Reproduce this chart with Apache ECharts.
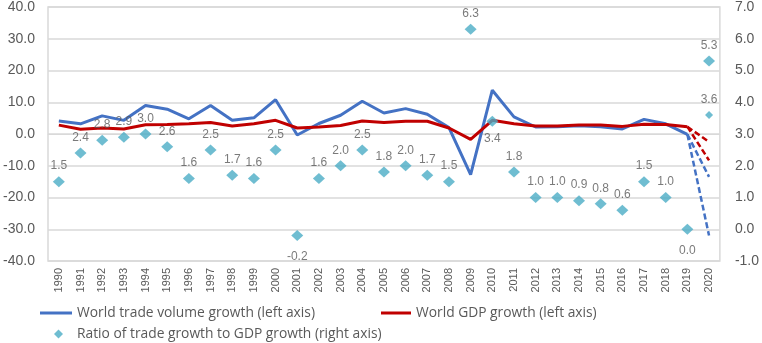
<!DOCTYPE html>
<html><head><meta charset="utf-8">
<script src="https://cdn.jsdelivr.net/npm/echarts@6/dist/echarts.min.js"></script>
<style>html,body{margin:0;padding:0;background:#fff}#c{width:762px;height:343px}</style>
</head><body><div id="c"></div>
<script>
const years = ['1990','1991','1992','1993','1994','1995','1996','1997','1998','1999','2000','2001','2002','2003','2004','2005','2006','2007','2008','2009','2010','2011','2012','2013','2014','2015','2016','2017','2018','2019','2020'];
// World trade volume growth (%), 1990-2019
const tradeGrowth = [4.1,3.2,5.7,4.3,9.0,7.8,4.8,9.0,4.3,5.1,10.8,-0.3,3.3,5.9,10.3,6.6,8.0,6.2,2.0,-12.8,13.8,5.4,2.2,2.3,2.6,2.3,1.6,4.6,3.2,-0.1];
// World GDP growth (%), 1990-2019
const gdpGrowth = [2.8,1.5,1.9,1.6,2.9,3.0,3.2,3.6,2.5,3.2,4.3,1.9,2.2,2.7,4.1,3.6,4.0,4.0,1.9,-1.7,4.3,3.2,2.5,2.5,2.8,2.8,2.4,3.1,3.0,2.3];
// 2020 scenarios (optimistic, pessimistic)
const tradeScenarios2020 = [-13.5, -32.0];
const gdpScenarios2020 = [-2.5, -8.3];
// Ratio of trade growth to GDP growth (right axis)
const ratio = [1.5,2.4,2.8,2.9,3.0,2.6,1.6,2.5,1.7,1.6,2.5,-0.2,1.6,2.0,2.5,1.8,2.0,1.7,1.5,6.3,3.4,1.8,1.0,1.0,0.9,0.8,0.6,1.5,1.0,0.0,5.3];
const ratioAlt2020 = 3.6;
const leftTicks = {min:-40, max:40, interval:10};
const rightTicks = {min:-1, max:7, interval:1};
const belowLabelYears = ['2001','2010','2019'];

const BLUE = '#4472C4', RED = '#C00000', TEAL = '#4BACC6', TXT = '#595959', GRID = '#d9d9d9';
const FONT = 'Liberation Sans';
const LFONT = 'Open Sans';

function padSeries(vals){ const a = years.map(()=>null); vals.forEach((v,i)=>a[i]=v); return a; }
function scenario(start, end){ const a = years.map(()=>null); a[years.length-2]=start; a[years.length-1]=end; return a; }

const tradeName = 'World trade volume growth (left axis)';
const gdpName = 'World GDP growth (left axis)';
const ratioName = 'Ratio of trade growth to GDP growth (right axis)';

const ratioData = ratio.map((v,i)=>{
  const below = belowLabelYears.includes(years[i]);
  const dist = years[i]==='2010' ? 6 : (below ? 10 : 4);
  return {value:v, label:{position: below ? 'bottom' : 'top', distance: dist}};
});
const altData = years.map((y,i)=> i===years.length-1 ? ratioAlt2020 : null);

const dashed = (data,color)=>({type:'line', data, yAxisIndex:0, symbol:'none', connectNulls:false,
  lineStyle:{color, width:2.5, type:[6,3]}, z:3, silent:true});

const legendText = {color:TXT, fontSize:13.8, fontFamily:LFONT, lineHeight:16};
const chart = echarts.init(document.getElementById('c'), null, {renderer:'canvas'});
chart.setOption({
  animation:false,
  textStyle:{fontFamily:FONT},
  grid:{left:48, right:41, top:5, bottom:82, show:true, borderColor:GRID, borderWidth:1.5},
  xAxis:{type:'category', data:years, boundaryGap:true,
    axisLine:{show:true, lineStyle:{color:GRID}}, axisTick:{show:false},
    axisLabel:{rotate:90, color:TXT, fontSize:11, fontFamily:FONT, margin:7, interval:0}},
  yAxis:[
    {type:'value', min:leftTicks.min, max:leftTicks.max, interval:leftTicks.interval,
      axisLine:{show:false}, axisTick:{show:false},
      splitLine:{lineStyle:{color:GRID, width:1.5}},
      axisLabel:{color:TXT, fontSize:14, fontFamily:FONT, margin:13, formatter:v=>v.toFixed(1)}},
    {type:'value', min:rightTicks.min, max:rightTicks.max, interval:rightTicks.interval,
      axisLine:{show:false}, axisTick:{show:false}, splitLine:{show:false},
      axisLabel:{color:TXT, fontSize:14, fontFamily:FONT, margin:15, formatter:v=>v.toFixed(1)}}
  ],
  legend:[
    {data:[{name:tradeName, icon:'rect'}], left:40, top:305, padding:0, itemWidth:32, itemHeight:3, itemGap:0,
      textStyle:legendText},
    {data:[{name:gdpName, icon:'rect'}], left:381, top:305, padding:0, itemWidth:30, itemHeight:3, itemGap:0,
      textStyle:legendText},
    {data:[{name:ratioName, icon:'diamond'}], left:54, top:326, padding:0, itemWidth:9, itemHeight:9, itemGap:0,
      textStyle:Object.assign({}, legendText, {padding:[0,0,0,9]})}
  ],
  series:[
    {name:tradeName, type:'line', data:padSeries(tradeGrowth), yAxisIndex:0, symbol:'none',
      lineStyle:{color:BLUE, width:3}, itemStyle:{color:BLUE}, z:3},
    {name:gdpName, type:'line', data:padSeries(gdpGrowth), yAxisIndex:0, symbol:'none',
      lineStyle:{color:RED, width:3}, itemStyle:{color:RED}, z:4},
    dashed(scenario(tradeGrowth[tradeGrowth.length-1], tradeScenarios2020[0]), BLUE),
    dashed(scenario(tradeGrowth[tradeGrowth.length-1], tradeScenarios2020[1]), BLUE),
    dashed(scenario(gdpGrowth[gdpGrowth.length-1], gdpScenarios2020[0]), RED),
    dashed(scenario(gdpGrowth[gdpGrowth.length-1], gdpScenarios2020[1]), RED),
    {name:ratioName, type:'scatter', data:ratioData, yAxisIndex:1, symbol:'diamond', symbolSize:[12,11],
      itemStyle:{color:TEAL}, z:5,
      label:{show:true, color:TXT, fontSize:12, fontFamily:FONT, formatter:p=>p.value.toFixed(1)}},
    {name:'ratioAlt', type:'scatter', data:altData, yAxisIndex:1, symbol:'diamond', symbolSize:[8,8],
      itemStyle:{color:TEAL}, z:5,
      label:{show:true, position:'top', distance:5, color:TXT, fontSize:12, fontFamily:FONT, formatter:p=>p.value.toFixed(1)}}
  ]
});
</script></body></html>
